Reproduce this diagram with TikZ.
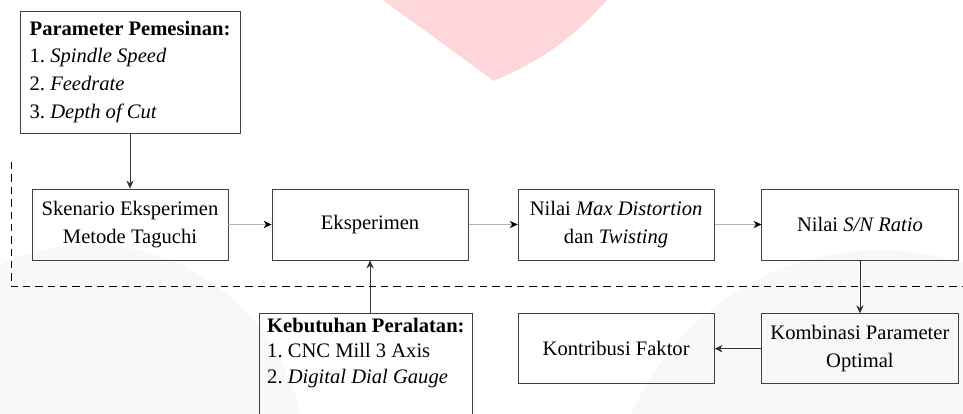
\documentclass[tikz,border=0pt]{standalone}
\usepackage{fontspec}
\setmainfont{Liberation Serif}
\usepackage{xcolor}
\usetikzlibrary{arrows.meta,positioning,calc}

\definecolor{markpink}{RGB}{255,215,219}
\definecolor{markgray}{RGB}{248,248,248}

\begin{document}
\frenchspacing
\begin{tikzpicture}[
    node distance=1.2cm,
    every node/.style={font=\fontsize{15.5}{21}\selectfont},
    block/.style={rectangle, draw=black!75, line width=0.6pt, minimum width=5.19cm, minimum height=1.88cm, align=center, inner sep=2pt},
    listbox/.style={rectangle, draw=black!75, line width=0.6pt, align=left, inner sep=2pt},
    arrow/.style={-{Stealth[length=6pt,width=5.5pt]}, line width=0.6pt, draw=black!80},
    lightarrow/.style={arrow, draw=black!30, -{Stealth[length=6pt,width=5.5pt,black]}},
    border/.style={dash pattern=on 5.5pt off 3.8pt, line width=0.6pt}
]
\useasboundingbox (0,0) rectangle (25.48,-10.93);

% faint background marks
\fill[markgray] (2.38,-12.17) circle (5.69cm);
\fill[markgray] (23.28,-13.76) circle (7.14cm);
\fill[markpink] (10.13,0) -- (13.07,-2.14) to[bend right=12] (16.06,0) -- cycle;

% main row
\node[block] (skenario) at (3.44,-5.94) {Skenario Eksperimen\\Metode Taguchi};
\node[block, right=1.14cm of skenario] (eksperimen) {Eksperimen};
\node[block, right=1.30cm of eksperimen] (nilai) {Nilai \textit{Max Distortion}\\dan \textit{Twisting}};
\node[block, right=1.24cm of nilai] (snratio) {Nilai \textit{S/N Ratio}};

% lower row
\node[block, below=1.40cm of snratio, minimum height=1.85cm] (kombinasi) {Kombinasi Parameter\\Optimal};
\node[block, left=1.24cm of kombinasi, minimum height=1.85cm] (kontribusi) {Kontribusi Faktor};

% inputs
\node[listbox, above=1.46cm of skenario, minimum width=5.82cm, minimum height=3.23cm] (parameter) {\textbf{Parameter Pemesinan:}\\
1. \textit{Spindle Speed}\\
2. \textit{Feedrate}\\
3. \textit{Depth of Cut}};
\node[listbox, below=1.40cm of eksperimen, xshift=-0.11cm, minimum width=5.61cm, inner ysep=3.5pt, font=\fontsize{15.5}{19}\selectfont] (peralatan) {\textbf{Kebutuhan Peralatan:}\\
1. CNC Mill 3 Axis\\
2. \textit{Digital Dial Gauge}\\[8pt]
\mbox{}};

% dashed boundary
\coordinate (dtop) at (0.29,-4.29);
\coordinate (dcorner) at (0.29,-7.57);
\coordinate (dend) at (25.48,-7.57);
\draw[border] (dtop) -- (dcorner) -- (dend);

\draw[arrow] (parameter) -- (skenario);
\draw[lightarrow] (skenario) -- (eksperimen);
\draw[lightarrow] (eksperimen) -- (nilai);
\draw[lightarrow] (nilai) -- (snratio);
\draw[arrow] (eksperimen.south |- peralatan.north) -- (eksperimen.south);
\draw[arrow] (snratio) -- (kombinasi);
\draw[arrow] (kombinasi) -- (kontribusi);

\end{tikzpicture}
\end{document}
